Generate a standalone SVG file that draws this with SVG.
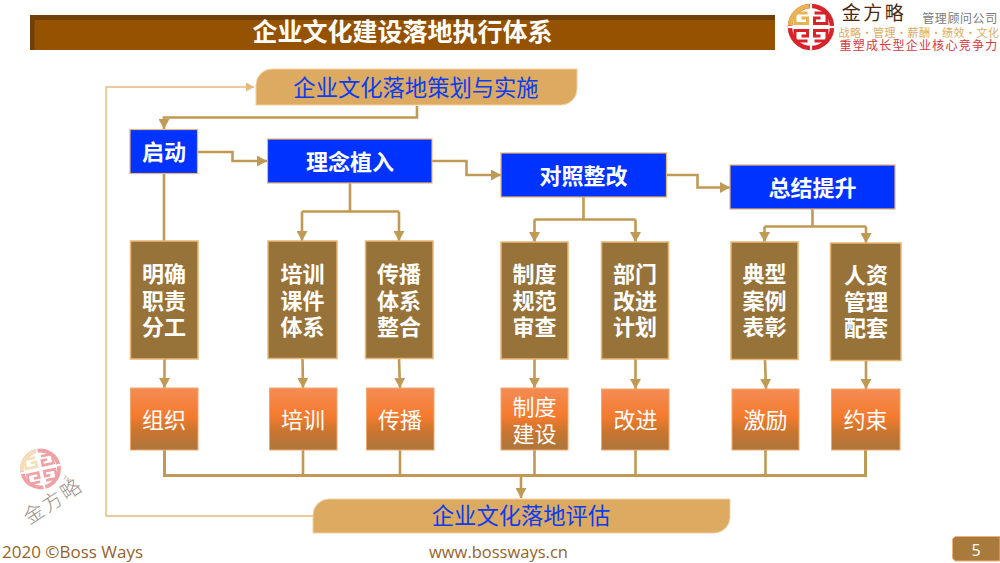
<svg xmlns="http://www.w3.org/2000/svg" width="1000" height="563" viewBox="0 0 1000 563">
<style>
text{font-family:"Noto Sans CJK SC","Noto Sans",sans-serif;text-anchor:middle}
.blue rect{fill:#0033ff;stroke:#eab676;stroke-width:1.2}
.blue text{fill:#fff;font-size:22px;font-weight:700}
.brown rect{fill:#97733a;stroke:#eab676;stroke-width:1.5}
.brown text{fill:#fff;font-size:22px;font-weight:700}
.orange rect{fill:url(#og);stroke:#f2a76e;stroke-width:1}
.orange text{fill:#fff;font-size:22px;font-weight:400}
.band path{fill:#dcaa60;stroke:#f4cfa0;stroke-width:1}
.band text{fill:#0a3cf0;font-size:22.3px;font-weight:400}
.c{fill:none;stroke:#c09a55;stroke-width:2.6}
.a{marker-end:url(#ah)}
.fb{fill:none;stroke:#e9b878;stroke-width:1.4}
.foot{fill:#96632a;font-family:"Open Sans","Noto Sans",sans-serif;font-size:17px}
.sp{fill:none;stroke-width:3}
</style>
<defs>
<linearGradient id="og" x1="0" y1="0" x2="0" y2="1">
<stop offset="0" stop-color="#f48c55"/><stop offset=".45" stop-color="#f57b2e"/><stop offset=".7" stop-color="#c9752f"/><stop offset="1" stop-color="#ac763c"/>
</linearGradient>
<marker id="ah" markerUnits="userSpaceOnUse" markerWidth="11" markerHeight="11" refX="10" refY="5.500" orient="auto"><path d="M0 0L10 5.500L0 11Z" fill="#c09a55"/></marker>
<marker id="al" markerUnits="userSpaceOnUse" markerWidth="9" markerHeight="9" refX="8" refY="4.500" orient="auto"><path d="M0 0L8 4.500L0 9Z" fill="#e9b878"/></marker>
<g id="logo">
<circle r="21" fill="none" stroke="#d8232a" stroke-width="4.400"/>
<path d="M-21 -1.500A21 21 0 0 1 -1.500 -21" fill="none" stroke="#e6b552" stroke-width="4.400"/>
<path class="sp" stroke="#e6b552" d="M-3.500 -14H-16V-3.500H-3.500V-9H-9.500"/>
<path class="sp" stroke="#d8232a" d="M3.500 -14H16V-3.500H3.500V-9H9.500"/>
<path class="sp" stroke="#d8232a" d="M-3.500 14H-16V3.500H-3.500V9H-9.500"/>
<path class="sp" stroke="#d8232a" d="M3.500 14H16V3.500H3.500V9H9.500"/>
<rect x="-23" y="-1.100" width="46" height="2.200" fill="#fff"/><rect x="-1.100" y="-23" width="2.200" height="46" fill="#fff"/>
</g>
</defs>
<rect width="1000" height="563" fill="#fff"/>

<g id="title-bar">
<rect x="30" y="15" width="745" height="35" fill="#955200"/>
<rect x="30" y="15" width="745" height="5" fill="#6f3f08"/>
<rect x="30" y="15" width="4.500" height="35" fill="#6f3f08"/>
<text x="402.500" y="41" fill="#fff" font-size="25" font-weight="700">企业文化建设落地执行体系</text>
</g>

<g id="brand-logo">
<use href="#logo" transform="translate(811 27)"/>
<text x="874" y="20" font-size="19" fill="#4a2a10" font-weight="400" letter-spacing="2.500">金方略</text>
<text x="960" y="23" font-size="12" fill="#7a7a7a" letter-spacing=".6">管理顾问公司</text>
<text x="919" y="37" font-size="11" fill="#dcaa60" letter-spacing=".5">战略•管理•薪酬•绩效•文化</text>
<text x="919" y="50" font-size="12" fill="#d8373c" letter-spacing="1.250">重塑成长型企业核心竞争力</text>
</g>

<g id="watermark-logo" opacity=".42">
<use href="#logo" transform="translate(40.500 469) rotate(-12) scale(.88)"/>
</g>
<g id="watermark-text">
<text transform="translate(57 507) rotate(-33)" font-size="20" fill="#9a9188" font-weight="300" letter-spacing="2">金方略</text>
<text transform="translate(66 481) rotate(30)" font-size="6" fill="#b8b0a8">TM</text>
</g>

<g id="connectors">
<path class="fb" d="M313 516H106V87H254" marker-end="url(#al)"/>
<path class="c a" d="M417 106V117.500H164V129"/>
<path class="c a" d="M198 152H232.500V161H267"/>
<path class="c" d="M164 174V241"/>
<path class="c a" d="M432 161H466.500V175H501"/>
<path class="c a" d="M667 175H697.500V187.500H730"/>
<path class="c" d="M350 183V211.500M302 211.500H399"/>
<path class="c a" d="M302 211.500V241"/>
<path class="c a" d="M399 211.500V241"/>
<path class="c" d="M583.500 197V219.500M534.500 219.500H635.500"/>
<path class="c a" d="M534.500 219.500V242"/>
<path class="c a" d="M635.500 219.500V242"/>
<path class="c" d="M812.500 209V226.500M764.500 226.500H866"/>
<path class="c a" d="M764.500 226.500V242"/>
<path class="c a" d="M866 226.500V243"/>
<path class="c a" d="M164.500 359V388"/>
<path class="c a" d="M302.500 358L303 388"/>
<path class="c a" d="M399 358L400 388"/>
<path class="c a" d="M534.500 359V388"/>
<path class="c a" d="M635.500 359V389"/>
<path class="c a" d="M765 360L766 389"/>
<path class="c a" d="M866 361V389"/>
<path class="c" d="M164.500 450V475.500H865.500V450" style="stroke-width:3"/>
<path class="c" d="M303 450V475M400 450V475M534.500 450V475M635.500 450V475M765.500 450V475"/>
<path class="c a" d="M521 475V498"/>
</g>

<g id="plan" class="band"><path d="M272 69H577V89A16 16 0 0 1 561 105H256V85A16 16 0 0 1 272 69Z"/><text x="416" y="96">企业文化落地策划与实施</text></g>
<g id="eval" class="band"><path d="M329 499H730V517A16 16 0 0 1 714 533H313V515A16 16 0 0 1 329 499Z"/><text x="521" y="524">企业文化落地评估</text></g>

<g id="n-qidong" class="blue"><rect x="130" y="129.500" width="67.500" height="44"/><text x="164" y="160">启动</text></g>
<g id="n-linian" class="blue"><rect x="267.500" y="139" width="164.500" height="44"/><text x="350" y="170">理念植入</text></g>
<g id="n-duizhao" class="blue"><rect x="501" y="153" width="165.500" height="44"/><text x="583.500" y="184">对照整改</text></g>
<g id="n-zongjie" class="blue"><rect x="730" y="165" width="165" height="44"/><text x="812.500" y="196">总结提升</text></g>

<g id="n-mingque" class="brown"><rect x="130.500" y="241" width="67.500" height="118"/><text x="164" y="282">明确</text><text x="164" y="308.500">职责</text><text x="164" y="335">分工</text></g>
<g id="n-peixun-k" class="brown"><rect x="268" y="241" width="69" height="117.500"/><text x="302.500" y="282">培训</text><text x="302.500" y="308.500">课件</text><text x="302.500" y="335">体系</text></g>
<g id="n-chuanbo-t" class="brown"><rect x="365.500" y="241" width="67.500" height="117.500"/><text x="399" y="282">传播</text><text x="399" y="308.500">体系</text><text x="399" y="335">整合</text></g>
<g id="n-zhidu-g" class="brown"><rect x="501" y="242" width="67" height="117"/><text x="534.500" y="282">制度</text><text x="534.500" y="308.500">规范</text><text x="534.500" y="335">审查</text></g>
<g id="n-bumen" class="brown"><rect x="601.500" y="242" width="67" height="117"/><text x="635" y="282">部门</text><text x="635" y="308.500">改进</text><text x="635" y="335">计划</text></g>
<g id="n-dianxing" class="brown"><rect x="731" y="242" width="67" height="117.500"/><text x="764.500" y="282">典型</text><text x="764.500" y="308.500">案例</text><text x="764.500" y="335">表彰</text></g>
<g id="n-renzi" class="brown"><rect x="830.500" y="243" width="70.500" height="117.500"/><text x="866" y="283">人资</text><text x="866" y="309.500">管理</text><text x="866" y="336">配套</text></g>

<g id="n-zuzhi" class="orange"><rect x="130.500" y="388" width="67.500" height="62"/><text x="164" y="428">组织</text></g>
<g id="n-peixun" class="orange"><rect x="269.500" y="388" width="67.500" height="62"/><text x="303" y="428">培训</text></g>
<g id="n-chuanbo" class="orange"><rect x="366.500" y="388" width="67.500" height="62"/><text x="400" y="428">传播</text></g>
<g id="n-zhidu" class="orange"><rect x="501" y="388" width="67" height="62"/><text x="534.500" y="415">制度</text><text x="534.500" y="442">建设</text></g>
<g id="n-gaijin" class="orange"><rect x="601.500" y="389" width="67.500" height="61"/><text x="635.500" y="428">改进</text></g>
<g id="n-jili" class="orange"><rect x="732" y="389" width="67" height="61"/><text x="765.500" y="428">激励</text></g>
<g id="n-yueshu" class="orange"><rect x="831.500" y="389" width="68.500" height="61"/><text x="865.500" y="428">约束</text></g>

<g id="footer">
<text class="foot" x="2" y="557.500" style="text-anchor:start">2020 ©Boss Ways</text>
<text class="foot" x="498.500" y="557.500" style="font-size:16.500px">www.bossways.cn</text>
<path d="M955 536.500H1000V561H955L952.500 558V539Z" fill="#a87a3c" stroke="#f0b07a" stroke-width="1"/>
<text x="976" y="556" font-size="16" fill="#fff" style="font-family:'Open Sans',sans-serif">5</text>
</g>
</svg>
